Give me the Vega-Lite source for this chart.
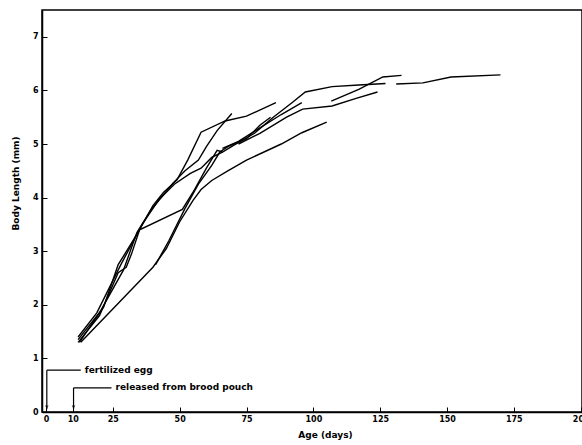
{
  "$schema": "https://vega.github.io/schema/vega-lite/v6.json",
  "width": 540,
  "height": 402,
  "autosize": "none",
  "padding": {"left": 42, "top": 10, "right": 0, "bottom": 33},
  "background": "white",
  "config": {
    "view": {"stroke": "black", "strokeWidth": 1.5},
    "font": "DejaVu Sans"
  },
  "datasets": {
    "curves": [
      {"s": "a", "i": 1, "d": 12, "v": 1.35}, {"s": "a", "i": 2, "d": 21.5, "v": 1.95}, {"s": "a", "i": 3, "d": 27, "v": 2.75}, {"s": "a", "i": 4, "d": 29.5, "v": 2.95}, {"s": "a", "i": 5, "d": 35, "v": 3.4}, {"s": "a", "i": 6, "d": 40, "v": 3.85}, {"s": "a", "i": 7, "d": 44, "v": 4.1}, {"s": "a", "i": 8, "d": 49, "v": 4.33}, {"s": "a", "i": 9, "d": 53, "v": 4.7}, {"s": "a", "i": 10, "d": 58, "v": 5.22}, {"s": "a", "i": 11, "d": 67, "v": 5.43}, {"s": "a", "i": 12, "d": 75, "v": 5.52}, {"s": "a", "i": 13, "d": 86, "v": 5.77},
      {"s": "b", "i": 1, "d": 12.5, "v": 1.3}, {"s": "b", "i": 2, "d": 20, "v": 1.85}, {"s": "b", "i": 3, "d": 29, "v": 2.65}, {"s": "b", "i": 4, "d": 34, "v": 3.35}, {"s": "b", "i": 5, "d": 39, "v": 3.75}, {"s": "b", "i": 6, "d": 47.5, "v": 4.27}, {"s": "b", "i": 7, "d": 52, "v": 4.5}, {"s": "b", "i": 8, "d": 57, "v": 4.7}, {"s": "b", "i": 9, "d": 60, "v": 4.95}, {"s": "b", "i": 10, "d": 64, "v": 5.25}, {"s": "b", "i": 11, "d": 69.5, "v": 5.57}, {"s": "b", "i": 12, "d": 68.3, "v": 5.5},
      {"s": "c", "i": 1, "d": 12, "v": 1.4}, {"s": "c", "i": 2, "d": 19, "v": 1.85}, {"s": "c", "i": 3, "d": 28, "v": 2.75}, {"s": "c", "i": 4, "d": 36, "v": 3.5}, {"s": "c", "i": 5, "d": 42, "v": 3.95}, {"s": "c", "i": 6, "d": 48, "v": 4.25}, {"s": "c", "i": 7, "d": 54, "v": 4.45}, {"s": "c", "i": 8, "d": 58, "v": 4.55}, {"s": "c", "i": 9, "d": 62, "v": 4.75}, {"s": "c", "i": 10, "d": 66, "v": 4.85}, {"s": "c", "i": 11, "d": 70, "v": 4.97}, {"s": "c", "i": 12, "d": 78, "v": 5.2}, {"s": "c", "i": 13, "d": 85, "v": 5.5}, {"s": "c", "i": 14, "d": 92, "v": 5.77}, {"s": "c", "i": 15, "d": 97, "v": 5.97}, {"s": "c", "i": 16, "d": 107, "v": 6.07}, {"s": "c", "i": 17, "d": 117, "v": 6.1}, {"s": "c", "i": 18, "d": 127, "v": 6.13},
      {"s": "c2", "i": 1, "d": 131, "v": 6.12}, {"s": "c2", "i": 2, "d": 141, "v": 6.14}, {"s": "c2", "i": 3, "d": 151.5, "v": 6.25}, {"s": "c2", "i": 4, "d": 170, "v": 6.29},
      {"s": "d", "i": 1, "d": 13, "v": 1.3}, {"s": "d", "i": 2, "d": 40, "v": 2.7}, {"s": "d", "i": 3, "d": 45, "v": 3.05}, {"s": "d", "i": 4, "d": 50, "v": 3.55}, {"s": "d", "i": 5, "d": 55, "v": 3.95}, {"s": "d", "i": 6, "d": 58, "v": 4.15}, {"s": "d", "i": 7, "d": 62, "v": 4.32}, {"s": "d", "i": 8, "d": 68, "v": 4.5}, {"s": "d", "i": 9, "d": 75, "v": 4.7}, {"s": "d", "i": 10, "d": 88, "v": 5.0}, {"s": "d", "i": 11, "d": 95.7, "v": 5.21}, {"s": "d", "i": 12, "d": 105, "v": 5.41},
      {"s": "e", "i": 1, "d": 12, "v": 1.3}, {"s": "e", "i": 2, "d": 20, "v": 1.8}, {"s": "e", "i": 3, "d": 27, "v": 2.6}, {"s": "e", "i": 4, "d": 30, "v": 2.7}, {"s": "e", "i": 5, "d": 32, "v": 2.95}, {"s": "e", "i": 6, "d": 35, "v": 3.4}, {"s": "e", "i": 7, "d": 51, "v": 3.78}, {"s": "e", "i": 8, "d": 55, "v": 4.1}, {"s": "e", "i": 9, "d": 60, "v": 4.55}, {"s": "e", "i": 10, "d": 64, "v": 4.88}, {"s": "e", "i": 11, "d": 66, "v": 4.85},
      {"s": "f", "i": 1, "d": 41, "v": 2.75}, {"s": "f", "i": 2, "d": 46, "v": 3.2}, {"s": "f", "i": 3, "d": 52, "v": 3.8}, {"s": "f", "i": 4, "d": 57, "v": 4.25}, {"s": "f", "i": 5, "d": 62, "v": 4.6}, {"s": "f", "i": 6, "d": 65, "v": 4.85}, {"s": "f", "i": 7, "d": 68, "v": 4.95}, {"s": "f", "i": 8, "d": 75, "v": 5.1}, {"s": "f", "i": 9, "d": 80, "v": 5.35}, {"s": "f", "i": 10, "d": 84, "v": 5.5},
      {"s": "g", "i": 1, "d": 66, "v": 4.92}, {"s": "g", "i": 2, "d": 72, "v": 5.05}, {"s": "g", "i": 3, "d": 80, "v": 5.3}, {"s": "g", "i": 4, "d": 88, "v": 5.55}, {"s": "g", "i": 5, "d": 95.7, "v": 5.77},
      {"s": "h", "i": 1, "d": 72, "v": 5.0}, {"s": "h", "i": 2, "d": 80, "v": 5.2}, {"s": "h", "i": 3, "d": 90, "v": 5.5}, {"s": "h", "i": 4, "d": 96, "v": 5.65}, {"s": "h", "i": 5, "d": 107, "v": 5.71}, {"s": "h", "i": 6, "d": 116, "v": 5.85}, {"s": "h", "i": 7, "d": 124, "v": 5.97},
      {"s": "k", "i": 1, "d": 106.7, "v": 5.8}, {"s": "k", "i": 2, "d": 117, "v": 6.02}, {"s": "k", "i": 3, "d": 126, "v": 6.25}, {"s": "k", "i": 4, "d": 133, "v": 6.28}
    ],
    "brackets": [
      {"x": 0.3, "y": 0.05, "x2": 0.3, "y2": 0.78},
      {"x": 0.3, "y": 0.78, "x2": 13, "y2": 0.78},
      {"x": 10.3, "y": 0.05, "x2": 10.3, "y2": 0.45},
      {"x": 10.3, "y": 0.45, "x2": 24.5, "y2": 0.45}
    ],
    "arrows": [{"x": 0.3, "y": 0.09}, {"x": 10.3, "y": 0.09}],
    "notes": [
      {"x": 14.5, "y": 0.79, "t": "fertilized egg"},
      {"x": 26, "y": 0.46, "t": "released from brood pouch"}
    ]
  },
  "layer": [
    {
      "data": {"name": "curves"},
      "mark": {"type": "line", "color": "black", "strokeWidth": 1.4},
      "encoding": {
        "x": {
          "field": "d", "type": "quantitative",
          "scale": {"domain": [-1.5, 200.5], "nice": false, "zero": false},
          "axis": {
            "title": "Age (days)", "values": [0, 10, 25, 50, 75, 100, 125, 150, 175, 200], "format": "d",
            "grid": false, "domainColor": "black", "domainWidth": 1.5,
            "tickColor": "black", "tickSize": -5, "labelPadding": 8,
            "labelFont": "DejaVu Sans", "labelFontWeight": "bold", "labelFontSize": 8, "labelColor": "black",
            "titleFont": "DejaVu Sans", "titleFontWeight": "bold", "titleFontSize": 9, "titleColor": "black",
            "titlePadding": 7, "titleX": 283
          }
        },
        "y": {
          "field": "v", "type": "quantitative",
          "scale": {"domain": [0, 7.5], "nice": false},
          "axis": {
            "title": "Body Length (mm)", "values": [0, 1, 2, 3, 4, 5, 6, 7], "format": "d",
            "grid": false, "domainColor": "black", "domainWidth": 1.5,
            "tickColor": "black", "tickSize": -5, "labelPadding": 9,
            "labelFont": "DejaVu Sans", "labelFontWeight": "bold", "labelFontSize": 8, "labelColor": "black",
            "titleFont": "DejaVu Sans", "titleFontWeight": "bold", "titleFontSize": 9, "titleColor": "black",
            "titlePadding": 12, "titleY": 173
          }
        },
        "detail": {"field": "s"},
        "order": {"field": "i", "type": "quantitative"}
      }
    },
    {
      "data": {"name": "brackets"},
      "mark": {"type": "rule", "color": "black", "strokeWidth": 1.2},
      "encoding": {
        "x": {"field": "x", "type": "quantitative"},
        "y": {"field": "y", "type": "quantitative"},
        "x2": {"field": "x2"},
        "y2": {"field": "y2"}
      }
    },
    {
      "data": {"name": "arrows"},
      "mark": {"type": "point", "shape": "triangle-down", "filled": true, "color": "black", "size": 14},
      "encoding": {
        "x": {"field": "x", "type": "quantitative"},
        "y": {"field": "y", "type": "quantitative"}
      }
    },
    {
      "data": {"name": "notes"},
      "mark": {"type": "text", "align": "left", "baseline": "middle", "font": "DejaVu Sans", "fontSize": 9, "fontWeight": "bold", "color": "black"},
      "encoding": {
        "x": {"field": "x", "type": "quantitative"},
        "y": {"field": "y", "type": "quantitative"},
        "text": {"field": "t"}
      }
    }
  ]
}
